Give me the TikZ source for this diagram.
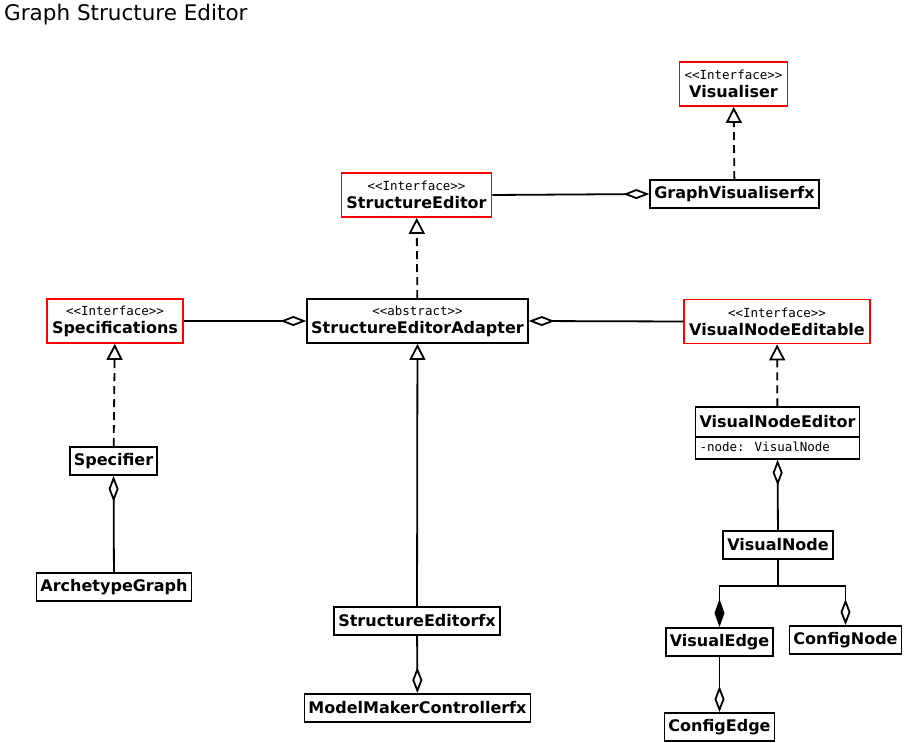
\documentclass[tikz,border=0pt]{standalone}
\usepackage{fontspec}
\setmainfont{DejaVu Sans}
\newfontfamily\stereofont{DejaVu Sans Mono}
\usetikzlibrary{arrows.meta,shapes.multipart}
\newcommand{\stereo}[1]{{\fontsize{12.5}{14}\selectfont\stereofont\mdseries #1}\\}

\begin{document}
\begin{tikzpicture}[x=1pt, y=-1pt, line width=1.8pt,
	cls/.style={draw, font=\fontsize{16}{18}\selectfont\bfseries, inner xsep=4pt, inner ysep=0pt, minimum height=28pt},
	iface/.style={cls, draw=red, align=center, minimum height=44pt, inner xsep=5pt},
	realize/.style={dash pattern=on 8pt off 5pt, -{Triangle[open, length=16pt, width=16pt]}},
	inherit/.style={-{Triangle[open, length=16pt, width=16pt]}},
	aggr/.style={-{Diamond[open, length=26pt, width=10pt]}},
	comp/.style={-{Diamond[length=28pt, width=10pt]}}]
	\useasboundingbox (0,0) rectangle (905,743);
	\node[anchor=base west, font=\fontsize{21.5}{24}\selectfont] (title) at (0,21) {Graph Structure Editor};

	% interfaces
	\node[iface] (visualiser) at (733.5,84) {\stereo{<<Interface>>}Visualiser};
	\node[iface] (sedit) at (416.5,195) {\stereo{<<Interface>>}StructureEditor};
	\node[iface] (specs) at (115,321) {\stereo{<<Interface>>}Specifications};
	\node[iface] (vnedit) at (777,321.5) {\stereo{<<Interface>>}VisualNodeEditable};

	% classes
	\node[cls, align=center, minimum height=44pt] (adapter) at (417.5,321) {\stereo{<<abstract>>}StructureEditorAdapter};
	\node[cls] (gvis) at (734.5,194) {GraphVisualiserfx};
	\node[cls] (specifier) at (113.5,461) {Specifier};
	\node[cls] (archgraph) at (114,587) {ArchetypeGraph};
	\node[cls] (sefx) at (417,621) {StructureEditorfx};
	\node[cls] (mmcfx) at (417.5,708) {ModelMakerControllerfx};
	\node[cls, rectangle split, rectangle split parts=2, rectangle split part align={center,left}] (vneditor) at (777.5,433)
		{\rule[-9pt]{0pt}{28pt}VisualNodeEditor \nodepart{two}\fontsize{12.5}{14}\selectfont\stereofont\mdseries -node: VisualNode\rule[-6pt]{0pt}{20pt}};
	\node[cls] (vnode) at (778,545) {VisualNode};
	\node[cls] (vedge) at (719.5,642) {VisualEdge};
	\node[cls] (cnode) at (845.5,640) {ConfigNode};
	\node[cls] (cedge) at (719.5,727) {ConfigEdge};
	\coordinate (fork) at (778,586);

	% realizations and inheritance
	\draw[realize] (gvis) -- (visualiser);
	\draw[realize] (adapter) -- (sedit);
	\draw[realize] (specifier) -- (specs);
	\draw[realize] (vneditor) -- (vnedit);
	\draw[inherit] (sefx) -- (adapter);

	% aggregations
	\draw[aggr] (sedit.east) -- (gvis.west);
	\draw[aggr] (specs.east) -- (adapter.west);
	\draw[aggr] (vnedit.west) -- (adapter.east);
	\draw[aggr] (archgraph) -- (specifier);
	\draw[aggr] (sefx) -- (mmcfx);
	\draw[aggr] (vnode) -- (vneditor);
	\draw (vnode) -- (fork);
	\draw[comp] (fork) -| (vedge.north);
	\draw[aggr] (fork) -| (cnode.north);
	\draw[aggr] (vedge) -- (cedge);
\end{tikzpicture}
\end{document}
